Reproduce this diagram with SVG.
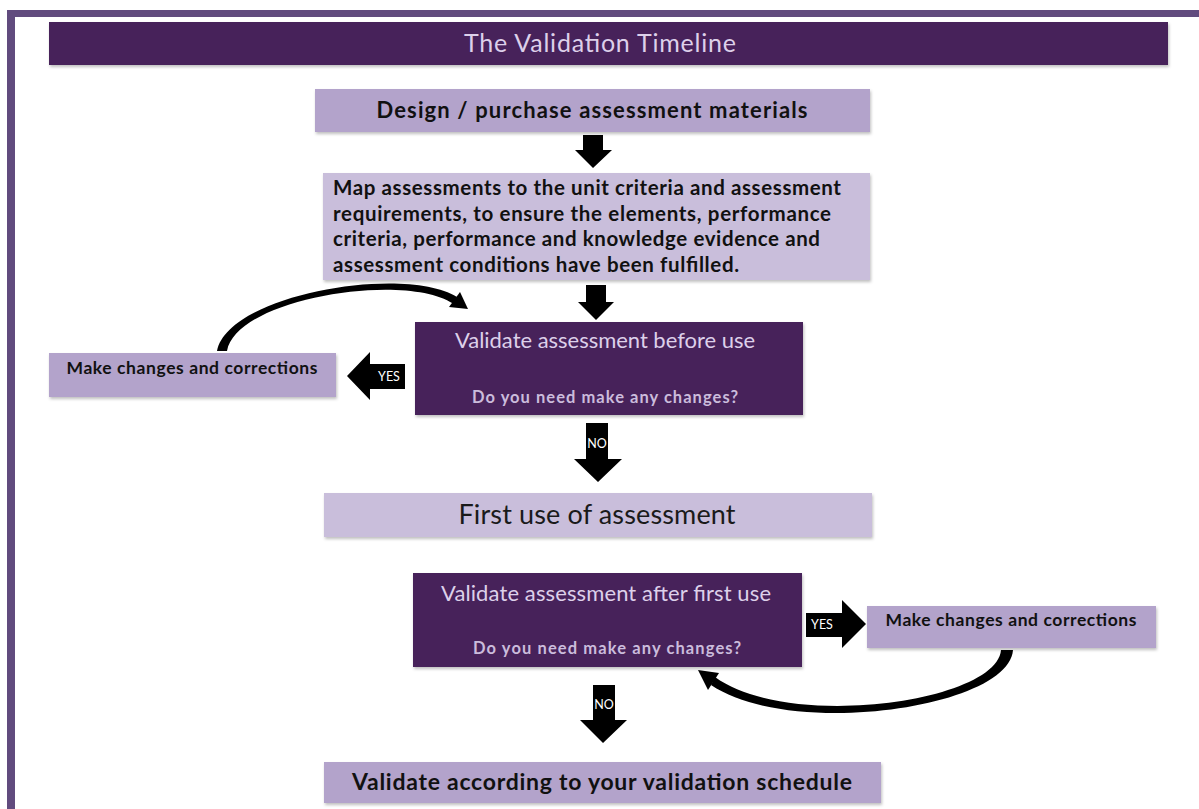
<svg xmlns="http://www.w3.org/2000/svg" width="1199" height="809" viewBox="0 0 1199 809">
<defs>
<filter id="sh" x="-5%" y="-20%" width="110%" height="150%">
<feDropShadow dx="1" dy="2" stdDeviation="1.5" flood-color="#000" flood-opacity="0.25"/>
</filter>
<style>
.f{font-family:Lato,"Liberation Sans",sans-serif}
.dark{fill:#47245a}
.mid{fill:#b3a3cb}
.light{fill:#c9bedb}
.b{font-weight:bold;fill:#111}
.lt{fill:#ddd0ea}
.q{fill:#cbbcdc;font-weight:bold;font-size:16.5px}
.lbl{fill:#fff;font-size:12.5px}
.blk{fill:#000}
</style>
</defs>
<rect width="1199" height="809" fill="#fff"/>
<g id="frame">
<rect x="7" y="10" width="1192" height="7" fill="#614b7e"/>
<rect x="7" y="10" width="8" height="799" fill="#614b7e"/>
</g>
<g id="title">
<rect x="49" y="22" width="1119" height="43" class="dark" filter="url(#sh)"/>
<text x="600" y="52" class="f lt" font-size="25" text-anchor="middle" textLength="272">The Validation Timeline</text>
</g>
<g id="design">
<rect x="315" y="89" width="555" height="43" class="mid" filter="url(#sh)"/>
<text x="592" y="118" class="f b" font-size="22" text-anchor="middle" textLength="431">Design / purchase  assessment  materials</text>
</g>
<g id="map">
<rect x="323" y="173" width="547" height="107" class="light" filter="url(#sh)"/>
<g class="f b" font-size="20.5">
<text x="333" y="195" textLength="508">Map assessments to the unit criteria and assessment</text>
<text x="333" y="221" textLength="498">requirements, to ensure the elements, performance</text>
<text x="333" y="246" textLength="487">criteria, performance and knowledge evidence and</text>
<text x="333" y="272" textLength="406">assessment conditions have been fulfilled.</text>
</g>
</g>
<g id="validate-before">
<rect x="415" y="322" width="388" height="93" class="dark" filter="url(#sh)"/>
<text x="605" y="348" class="f lt" font-size="22" text-anchor="middle" textLength="300">Validate assessment before use</text>
<text x="605" y="403" class="f q" text-anchor="middle" textLength="266">Do you need make any changes?</text>
</g>
<g id="changes-left">
<rect x="49" y="353" width="287" height="44" class="mid" filter="url(#sh)"/>
<text x="192" y="374" class="f b" font-size="17.5" text-anchor="middle" textLength="251">Make changes and corrections</text>
</g>
<g id="first-use">
<rect x="324" y="493" width="548" height="44" class="light" filter="url(#sh)"/>
<text x="597" y="524" class="f" fill="#1a1a1a" font-size="27" text-anchor="middle" textLength="277">First use of assessment</text>
</g>
<g id="validate-after">
<rect x="413" y="573" width="389" height="94" class="dark" filter="url(#sh)"/>
<text x="606" y="601" class="f lt" font-size="22" text-anchor="middle" textLength="330">Validate assessment after first use</text>
<text x="607" y="654" class="f q" text-anchor="middle" textLength="268">Do you need make any changes?</text>
</g>
<g id="changes-right">
<rect x="867" y="606" width="289" height="42" class="mid" filter="url(#sh)"/>
<text x="1011" y="626" class="f b" font-size="17.5" text-anchor="middle" textLength="251">Make changes and corrections</text>
</g>
<g id="schedule">
<rect x="324" y="762" width="557" height="41" class="mid" filter="url(#sh)"/>
<text x="602" y="790" class="f b" font-size="23" text-anchor="middle" textLength="500">Validate  according  to  your  validation  schedule</text>
</g>
<g id="connectors">
<polygon class="blk" points="583,135 603,135 603,150 612,150 593,168 575,150 583,150"/>
<polygon class="blk" points="586,285 606,285 606,302 614,302 596,320 578,302 586,302"/>
<polygon class="blk" points="405,364 405,389 370,389 370,400 347,376 370,352 370,364"/>
<text x="389" y="381" class="f lbl" text-anchor="middle">YES</text>
<path class="blk" d="M217 351 C228 294 405 264.5 457 297 L453 303.5 C405 271.5 236 298 227 351 Z"/>
<polygon class="blk" points="449,307 460,292 468,309"/>
<polygon class="blk" points="586,423 608,423 608,459 622,459 598,482 574,459 586,459"/>
<text x="597" y="448" class="f lbl" text-anchor="middle">NO</text>
<polygon class="blk" points="806,613 842,613 842,600 866,624 842,648 842,637 806,637"/>
<text x="822" y="629" class="f lbl" text-anchor="middle">YES</text>
<path class="blk" d="M1001 650 L1013 650 C1009 708 791 739 711 685 L715 677 C789 731 997 702 1001 650 Z"/>
<polygon class="blk" points="698,670 719,673 708,690"/>
<polygon class="blk" points="593,685 615,685 615,720 627,720 603,743 580,720 593,720"/>
<text x="604" y="709" class="f lbl" text-anchor="middle">NO</text>
</g>
</svg>
